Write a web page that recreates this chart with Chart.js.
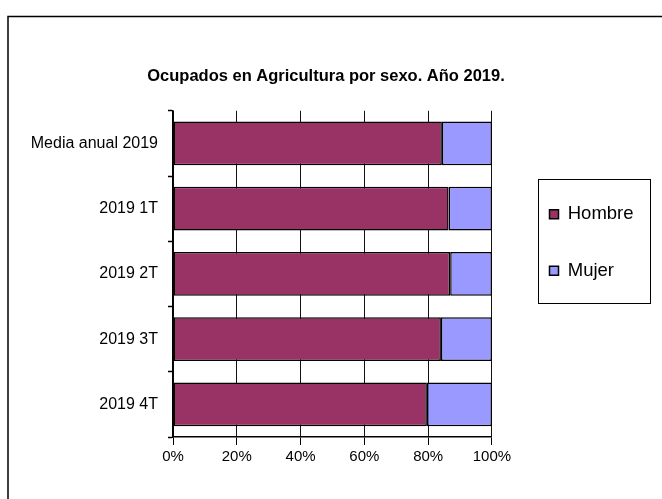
<!DOCTYPE html>
<html>
<head>
<meta charset="utf-8">
<script src="https://cdn.jsdelivr.net/npm/chart.js@4/dist/chart.umd.min.js"></script>
<style>
    body { margin: 0; background: #fff; }
    canvas { display: block; }
</style>
</head>
<body>
<canvas id="sexoChart" width="662" height="499"></canvas>
<script>
"use strict";

// Data
var categories = ["Media anual 2019", "2019 1T", "2019 2T", "2019 3T", "2019 4T"];
var hombre = [84.3, 86.4, 86.9, 84.0, 79.6];
var mujer = [15.7, 13.6, 13.1, 16.0, 20.4];
var xTickLabels = ["0%", "20%", "40%", "60%", "80%", "100%"];
var chartTitle = "Ocupados en Agricultura por sexo. Año 2019.";

var fontFamily = "'Liberation Sans', Arial, sans-serif";

// Outer frame + legend box
var framePlugin = {
    id: "frame",
    afterLayout: function (chart) {
        // Move legend inside its box (first item centred at y=214)
        var legend = chart.legend;
        var pad = chart.options.plugins.legend.labels.padding;
        legend.left = 549.5 - pad;
        legend.right = 650;
        legend.width = legend.right - legend.left;
        legend.top = 205 - pad;
        legend.bottom = 340;
        legend.height = legend.bottom - legend.top;
    },
    beforeDraw: function (chart) {
        var ctx = chart.ctx;
        ctx.save();
        ctx.fillStyle = "#fff";
        ctx.fillRect(0, 0, chart.width, chart.height);
        ctx.strokeStyle = "#000";
        ctx.lineWidth = 1.5;
        ctx.beginPath();
        ctx.moveTo(8, chart.height + 2);
        ctx.lineTo(8, 16.5);
        ctx.lineTo(chart.width + 2, 16.5);
        ctx.stroke();

        // legend box
        ctx.lineWidth = 1;
        ctx.strokeRect(538.5, 179.5, 112, 124);
        ctx.restore();
    }
};

window.onload = function () {
    var ctx = document.getElementById("sexoChart").getContext("2d");

    new Chart(ctx, {
        type: "bar",
        data: {
            labels: categories,
            datasets: [
                {
                    label: "Hombre",
                    data: hombre,
                    backgroundColor: "#993366",
                    borderColor: "#000",
                    borderWidth: 1.5,
                    borderSkipped: false,
                    barPercentage: 0.67,
                    categoryPercentage: 1
                },
                {
                    label: "Mujer",
                    data: mujer,
                    backgroundColor: "#9999FF",
                    borderColor: "#000",
                    borderWidth: 1.5,
                    borderSkipped: false,
                    barPercentage: 0.67,
                    categoryPercentage: 1
                }
            ]
        },
        options: {
            indexAxis: "y",
            responsive: false,
            animation: false,
            layout: {
                padding: { left: 28, right: 38, top: 0, bottom: 30 }
            },
            plugins: {
                title: {
                    display: true,
                    text: chartTitle,
                    color: "#000",
                    font: { family: fontFamily, size: 16.5, weight: "bold" },
                    padding: { top: 67, bottom: 24 }
                },
                legend: {
                    position: "right",
                    align: "start",
                    labels: {
                        color: "#000",
                        font: { family: fontFamily, size: 18.5 },
                        boxWidth: 9,
                        boxHeight: 9,
                        padding: 38
                    }
                },
                tooltip: { enabled: false }
            },
            scales: {
                x: {
                    stacked: true,
                    min: 0,
                    max: 100,
                    ticks: {
                        stepSize: 20,
                        color: "#000",
                        padding: 3,
                        font: { family: fontFamily, size: 15 },
                        callback: function (value, index) {
                            return xTickLabels[index];
                        }
                    },
                    grid: {
                        color: "#111",
                        lineWidth: 1,
                        tickLength: 8,
                        tickColor: "#000"
                    },
                    border: { color: "#000", width: 1.5 }
                },
                y: {
                    stacked: true,
                    afterFit: function (scale) {
                        scale.width = 145;
                    },
                    ticks: {
                        color: "#000",
                        padding: 10,
                        font: { family: fontFamily, size: 16 }
                    },
                    grid: {
                        drawOnChartArea: false,
                        tickLength: 5,
                        tickColor: "#000",
                        tickWidth: 1.5
                    },
                    border: { color: "#000", width: 1.5 }
                }
            }
        },
        plugins: [framePlugin]
    });
};
</script>
</body>
</html>
